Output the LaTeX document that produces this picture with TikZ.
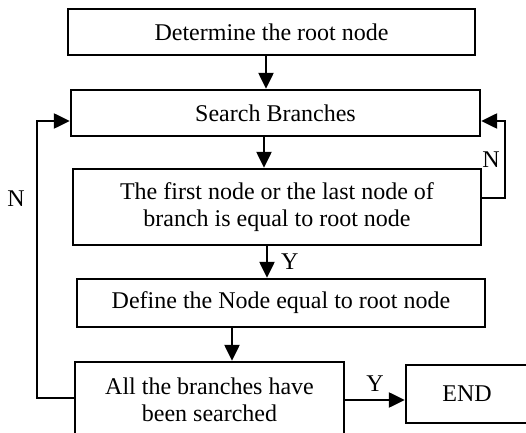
\documentclass[tikz,border=0pt]{standalone}
\usepackage{fontspec}
\setmainfont{Liberation Serif}
\usetikzlibrary{arrows.meta}
\begin{document}
\begin{tikzpicture}[x=0.5pt, y=-0.5pt]
    \tikzstyle{process}=[draw, line width=1.2pt, align=center, inner sep=2pt, font=\fontsize{12}{13.5}\selectfont]
    \tikzstyle{flow}=[line width=1.2pt, -{Triangle[length=8pt, width=7.5pt]}]
    \tikzstyle{answer}=[font=\fontsize{12}{13.5}\selectfont, inner sep=1pt]
    \useasboundingbox (0, 0) rectangle (526, 433);
    \node [process, minimum width=203.5pt, minimum height=23pt] (root) at (271.5, 32) {Determine the root node};
    \node [process, minimum width=204.5pt, minimum height=23pt] (search) at (275.5, 113) {Search Branches};
    \node [process, minimum width=204pt, minimum height=38pt] (check) at (277, 207) {The first node or the last node of\\branch is equal to root node};
    \node [process, minimum width=204pt, minimum height=24pt] (define) at (281, 303) {Define the Node equal to root node};
    \node [process, minimum width=134.5pt, minimum height=38pt] (done) at (209.5, 400) {All the branches have\\been searched};
    \node [process, minimum width=61pt, minimum height=29pt] (end) at (467, 394) {END};
    \coordinate (rloop) at (505, 121);
    \coordinate (lloop) at (37, 121);
    \draw [flow] ([xshift=-2.75pt]root.south) -- ([xshift=-2.75pt]root.south |- search.north);
    \draw [flow] ([xshift=-5.75pt]search.south) -- ([xshift=-5.75pt]search.south |- check.north);
    \draw [flow] ([xshift=-5pt]check.south) -- ([xshift=-5pt]check.south |- define.north) node [answer, midway, right=5.5pt] {Y};
    \draw [flow] ([xshift=-24.5pt]define.south) -- ([xshift=-24.5pt]define.south |- done.north);
    \draw [flow] (done.east) -- (done.east -| end.west) node [answer, midway, above=2.5pt] {Y};
    \draw [flow] ([yshift=4.5pt]check.east) -| (rloop) node [answer, pos=0.75, left=1pt] {N} -- (rloop -| search.east);
    \draw [flow] ([yshift=1pt]done.west) -| (lloop) node [answer, pos=0.86, left=4.5pt] {N} -- (lloop -| search.west);
\end{tikzpicture}
\end{document}
